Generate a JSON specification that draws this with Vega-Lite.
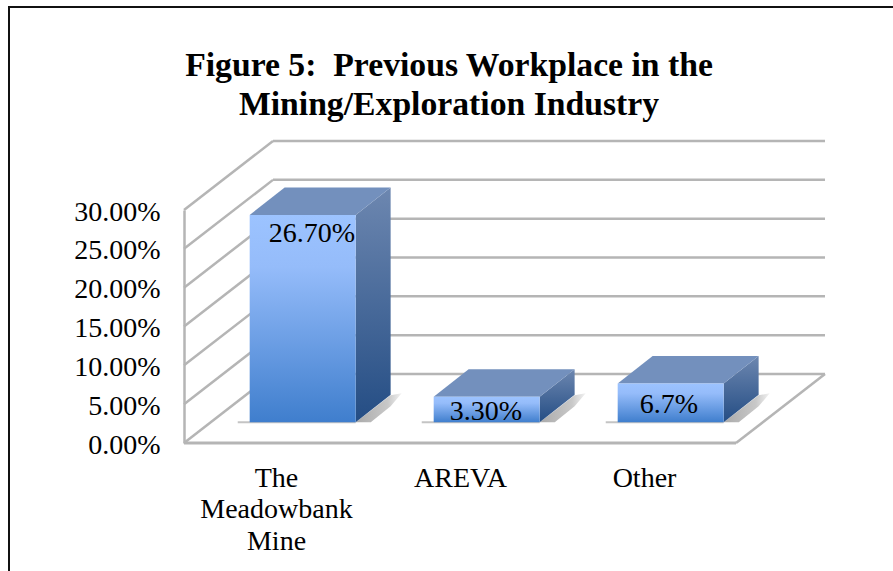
{
"$schema":"https://vega.github.io/schema/vega-lite/v6.json",
"width":886,"height":566,
"autosize":{"type":"none"},
"padding":{"left":9,"top":7,"right":0,"bottom":0},
"background":"white",
"config":{"view":{"stroke":"#111111","strokeWidth":2},"font":"Liberation Serif"},
"title":{"text":["Figure 5:\u00a0 Previous Workplace in the","Mining/Exploration Industry"],"anchor":"middle","frame":"group","dx":-3,"offset":-115,"fontSize":33.7,"fontWeight":"bold","font":"Liberation Serif","lineHeight":39,"color":"#000000"},
"datasets":{
"bars":[
{"category":"The Meadowbank Mine","idx":0,"value":0.267,"label":"26.70%"},
{"category":"AREVA","idx":1,"value":0.033,"label":"3.30%"},
{"category":"Other","idx":2,"value":0.05,"label":"6.7%"}],
"ticks":[{"v":0},{"v":0.05},{"v":0.1},{"v":0.15},{"v":0.2},{"v":0.25},{"v":0.3}]
},
"resolve":{"scale":{"x":"independent"},"axis":{"x":"independent"}},
"layer":[
{
"encoding":{
"x":{"field":"x0","type":"quantitative","axis":null,"scale":{"domain":[0,3],"range":[175,727],"zero":false,"nice":false}},
"y":{"field":"y0","type":"quantitative","scale":{"domain":[0,0.3],"range":[436,203],"zero":false,"nice":false},
"axis":{"title":null,"format":".2%","values":[0,0.05,0.1,0.15,0.2,0.25,0.3],"offset":-175,"grid":false,"ticks":false,"labelPadding":24,"labelFontSize":28,"labelOffset":2,"labelFont":"Liberation Serif","labelColor":"#000000","domainColor":"#b5b5b5","domainWidth":2.5}}
},
"layer":[
{"data":{"name":"ticks"},"transform":[{"calculate":"0.4837","as":"x0"},{"calculate":"3.4837","as":"x1"},{"calculate":"datum.v+0.0888","as":"y0"}],
"mark":{"type":"rule","color":"#b5b5b5","strokeWidth":2.5},
"encoding":{"x2":{"field":"x1"}}},
{"data":{"name":"ticks"},"transform":[{"calculate":"0","as":"x0"},{"calculate":"0.4837","as":"x1"},{"calculate":"datum.v","as":"y0"},{"calculate":"datum.v+0.0888","as":"y1"}],
"mark":{"type":"rule","color":"#b5b5b5","strokeWidth":2.5},
"encoding":{"x2":{"field":"x1"},"y2":{"field":"y1"}}},
{"data":{"name":"ticks"},"transform":[{"filter":"datum.v==0"},{"calculate":"0","as":"x0"},{"calculate":"3","as":"x1"},{"calculate":"0","as":"y0"}],
"mark":{"type":"rule","color":"#b5b5b5","strokeWidth":3},
"encoding":{"x2":{"field":"x1"}}},
{"data":{"name":"ticks"},"transform":[{"filter":"datum.v==0"},{"calculate":"3","as":"x0"},{"calculate":"3.4837","as":"x1"},{"calculate":"0","as":"y0"},{"calculate":"0.0888","as":"y1"}],
"mark":{"type":"rule","color":"#b5b5b5","strokeWidth":2.5},
"encoding":{"x2":{"field":"x1"},"y2":{"field":"y1"}}},
{"data":{"name":"bars"},"transform":[{"calculate":"datum.idx+0.292","as":"x0"},{"calculate":"datum.idx+0.933","as":"x1"},{"calculate":"0.0266","as":"y0"}],
"mark":{"type":"rule","color":"#c4c4c4","strokeWidth":2},
"encoding":{"x2":{"field":"x1"}}},
{"data":{"name":"bars"},"transform":[{"calculate":"[0,1,2,3]","as":"k"},{"flatten":["k"]},
{"calculate":"datum.idx+0.933+[0,0.082,0.19,0.25][datum.k]","as":"x0"},
{"calculate":"0.0266+[0,0.015,0.0348,0.0373][datum.k]","as":"y0"},
{"calculate":"0.0266+[0,0,0.0206,0.0373][datum.k]","as":"y1"}],
"mark":{"type":"area","color":{"gradient":"linear","x1":0,"y1":1,"x2":1,"y2":1,"stops":[{"offset":0,"color":"#aaaaaa"},{"offset":0.7,"color":"#c8c8c8"},{"offset":1,"color":"#f2f2f2"}]}},
"encoding":{"y2":{"field":"y1"},"detail":{"field":"category"}}},
{"data":{"name":"bars"},"transform":[{"calculate":"[0,1]","as":"k"},{"flatten":["k"]},
{"calculate":"datum.idx+0.933+0.19*datum.k","as":"x0"},
{"calculate":"datum.value+0.0266+0.0355*datum.k","as":"y0"},
{"calculate":"0.0266+0.0355*datum.k","as":"y1"}],
"mark":{"type":"area","color":{"gradient":"linear","x1":0,"y1":0,"x2":0,"y2":1,"stops":[{"offset":0,"color":"#6d87b0"},{"offset":1,"color":"#244d84"}]}},
"encoding":{"y2":{"field":"y1"},"detail":{"field":"category"}}},
{"data":{"name":"bars"},"transform":[{"calculate":"[0,1,2,3]","as":"k"},{"flatten":["k"]},
{"calculate":"datum.idx+0.357+[0,0.19,0.576,0.766][datum.k]","as":"x0"},
{"calculate":"datum.value+0.0266+[0,0.0355,0.0355,0.0355][datum.k]","as":"y0"},
{"calculate":"datum.value+0.0266+[0,0,0,0.0355][datum.k]","as":"y1"}],
"mark":{"type":"area","color":"#7390bd"},
"encoding":{"y2":{"field":"y1"},"detail":{"field":"category"}}},
{"data":{"name":"bars"},"transform":[{"calculate":"datum.idx+0.357","as":"x0"},{"calculate":"datum.idx+0.933","as":"x1"},{"calculate":"datum.value+0.0266","as":"y0"},{"calculate":"0.0266","as":"y1"}],
"mark":{"type":"rect","color":{"gradient":"linear","x1":0,"y1":0,"x2":0,"y2":1,"stops":[{"offset":0,"color":"#9cc3ff"},{"offset":0.25,"color":"#95bcfa"},{"offset":1,"color":"#3f7ecd"}]}},
"encoding":{"x2":{"field":"x1"},"y2":{"field":"y1"}}}
]
},
{
"data":{"name":"bars"},
"transform":[{"calculate":"datum.value+0.0266","as":"t"}],
"encoding":{
"x":{"field":"category","type":"nominal","sort":null,"scale":{"range":[175,727],"paddingInner":0,"paddingOuter":0},
"axis":{"title":null,"orient":"bottom","offset":-109,"domain":false,"ticks":false,"labelAngle":0,"labelPadding":0,"labelFontSize":28,"labelFont":"Liberation Serif","labelColor":"#000000","labelLineHeight":31.5,"labelBaseline":"top","labelExpr":"datum.label=='The Meadowbank Mine' ? ['The','Meadowbank','Mine'] : datum.label"}},
"y":{"field":"t","type":"quantitative"},
"text":{"field":"label"}
},
"layer":[
{"transform":[{"filter":"datum.idx==0"}],"mark":{"type":"text","fontSize":28,"font":"Liberation Serif","color":"#000000","baseline":"middle","dx":36,"dy":19}},
{"transform":[{"filter":"datum.idx==1"}],"mark":{"type":"text","fontSize":28,"font":"Liberation Serif","color":"#000000","baseline":"middle","dx":26,"dy":15}},
{"transform":[{"filter":"datum.idx==2"}],"mark":{"type":"text","fontSize":28,"font":"Liberation Serif","color":"#000000","baseline":"middle","dx":25,"dy":21}}
]
}
]
}
